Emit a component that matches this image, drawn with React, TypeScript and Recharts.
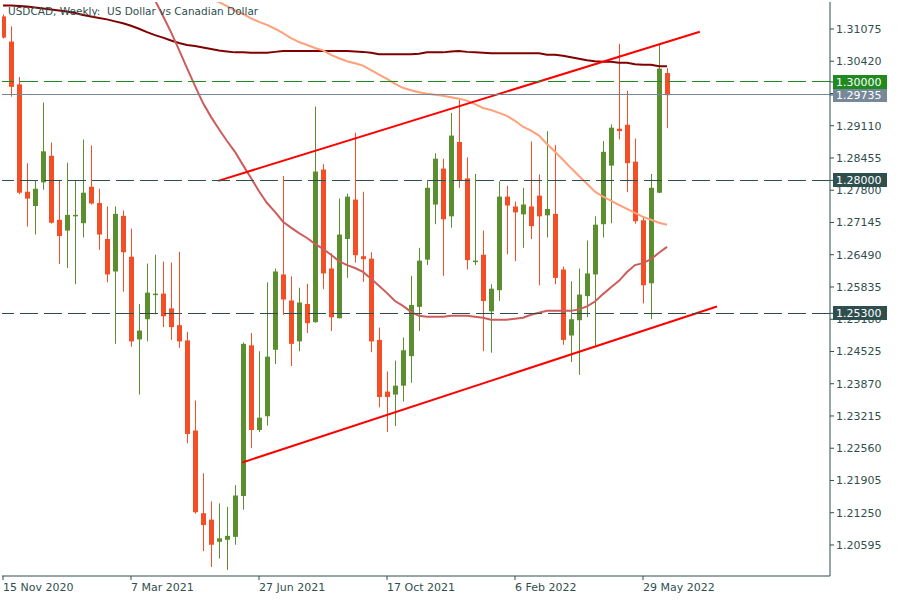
import { ComposedChart, Bar, Line, XAxis, YAxis, ReferenceLine } from 'recharts';

const FONT = '"DejaVu Sans", Verdana, sans-serif';
const INK = '#2f4f4f';
const UP = '#5a8e2f';
const DOWN = '#f44e27';

// weekly USDCAD candles, 15 Nov 2020 .. 19 Jun 2022
const openP = [
  1.3133, 1.3082, 1.2995, 1.2777, 1.2748, 1.2796, 1.2850, 1.2720, 1.2698, 1.2727,
  1.2713, 1.2787, 1.2754, 1.2681, 1.2615, 1.2728, 1.2645, 1.2477, 1.2518, 1.2568,
  1.2570, 1.2540, 1.2506, 1.2475, 1.2292, 1.2124, 1.2111, 1.2066, 1.2070, 1.2076,
  1.2159, 1.2465, 1.2293, 1.2321, 1.2456, 1.2609, 1.2556, 1.2473, 1.2549, 1.2512,
  1.2822, 1.2621, 1.2520, 1.2681, 1.2761, 1.2646, 1.2641, 1.2476, 1.2371, 1.2365,
  1.2383, 1.2443, 1.2543, 1.2639, 1.2751, 1.2824, 1.2727, 1.2878, 1.2804, 1.2634,
  1.2649, 1.2534, 1.2577, 1.2767, 1.2747, 1.2731, 1.2747, 1.2769, 1.2729, 1.2732,
  1.2619, 1.2485, 1.2516, 1.2565, 1.2609, 1.2711, 1.2830, 1.2905, 1.2913, 1.2838,
  1.2719, 1.2591, 1.2775, 1.3018,
];
const highP = [
  1.3137, 1.3113, 1.3010, 1.2835, 1.2800, 1.2958, 1.2877, 1.2801, 1.2836, 1.2801,
  1.2883, 1.2871, 1.2783, 1.2747, 1.2747, 1.2739, 1.2702, 1.2549, 1.2631, 1.2649,
  1.2635, 1.2633, 1.2655, 1.2492, 1.2353, 1.2205, 1.2148, 1.2144, 1.2137, 1.2181,
  1.2471, 1.2490, 1.2453, 1.2593, 1.2621, 1.2809, 1.2605, 1.2582, 1.2590, 1.2950,
  1.2833, 1.2652, 1.2763, 1.2773, 1.2897, 1.2777, 1.2654, 1.2501, 1.2412, 1.2434,
  1.2481, 1.2606, 1.2663, 1.2801, 1.2855, 1.2844, 1.2937, 1.2964, 1.2847, 1.2813,
  1.2698, 1.2589, 1.2798, 1.2789, 1.2757, 1.2785, 1.2879, 1.2812, 1.2900, 1.2872,
  1.2625, 1.2595, 1.2621, 1.2678, 1.2727, 1.2880, 1.2914, 1.3077, 1.2982, 1.2885,
  1.2727, 1.2813, 1.3077, 1.3028,
];
const lowP = [
  1.3088, 1.2970, 1.2772, 1.2706, 1.2690, 1.2781, 1.2712, 1.2630, 1.2622, 1.2589,
  1.2684, 1.2751, 1.2659, 1.2593, 1.2468, 1.2574, 1.2462, 1.2365, 1.2473, 1.2528,
  1.2502, 1.2476, 1.2460, 1.2266, 1.2123, 1.2047, 1.2015, 1.2032, 1.2009, 1.2060,
  1.2131, 1.2256, 1.2289, 1.2302, 1.2427, 1.2527, 1.2423, 1.2453, 1.2490, 1.2511,
  1.2579, 1.2494, 1.2520, 1.2602, 1.2633, 1.2594, 1.2451, 1.2339, 1.2289, 1.2301,
  1.2351, 1.2389, 1.2494, 1.2628, 1.2711, 1.2606, 1.2704, 1.2785, 1.2619, 1.2628,
  1.2453, 1.2450, 1.2555, 1.2650, 1.2636, 1.2663, 1.2681, 1.2587, 1.2684, 1.2589,
  1.2466, 1.2431, 1.2405, 1.2522, 1.2462, 1.2684, 1.2713, 1.2883, 1.2776, 1.2712,
  1.2550, 1.2518, 1.2774, 1.2906,
];
const closeP = [
  1.3090, 1.2990, 1.2775, 1.2763, 1.2783, 1.2859, 1.2714, 1.2687, 1.2730, 1.2730,
  1.2775, 1.2753, 1.2690, 1.2609, 1.2732, 1.2654, 1.2473, 1.2495, 1.2572, 1.2570,
  1.2524, 1.2502, 1.2473, 1.2285, 1.2126, 1.2100, 1.2060, 1.2073, 1.2078, 1.2160,
  1.2468, 1.2293, 1.2318, 1.2442, 1.2615, 1.2558, 1.2468, 1.2552, 1.2510, 1.2818,
  1.2611, 1.2522, 1.2690, 1.2767, 1.2648, 1.2640, 1.2473, 1.2360, 1.2360, 1.2383,
  1.2455, 1.2547, 1.2637, 1.2785, 1.2844, 1.2721, 1.2891, 1.2800, 1.2638, 1.2637,
  1.2555, 1.2580, 1.2767, 1.2749, 1.2735, 1.2751, 1.2707, 1.2727, 1.2742, 1.2602,
  1.2476, 1.2518, 1.2568, 1.2611, 1.2710, 1.2858, 1.2907, 1.2900, 1.2835, 1.2717,
  1.2587, 1.2785, 1.3027, 1.2973,
];

const N = null;
const ma50 = [
  N, N, N, N, N, N, N, N, N, N,
  N, N, N, N, N, N, N, 1.3231, 1.3199, 1.3166,
  1.3134, 1.3101, 1.3065, 1.3028, 1.2992, 1.2957, 1.2929, 1.2904, 1.2880, 1.2858,
  1.2831, 1.2805, 1.2778, 1.2754, 1.2736, 1.2716, 1.2704, 1.2693, 1.2683, 1.2671,
  1.2661, 1.2649, 1.2636, 1.2628, 1.2622, 1.2614, 1.2600, 1.2586, 1.2571, 1.2555,
  1.2545, 1.2533, 1.2525, 1.2523, 1.2523, 1.2523, 1.2525, 1.2525, 1.2525, 1.2523,
  1.2521, 1.2517, 1.2517, 1.2517, 1.2519, 1.2521, 1.2527, 1.2531, 1.2535, 1.2535,
  1.2535, 1.2535, 1.2538, 1.2544, 1.2554, 1.2569, 1.2583, 1.2596, 1.2614, 1.2628,
  1.2632, 1.2640, 1.2653, 1.2665,
];
const ma100 = [
  N, N, N, N, N, N, N, N, N, N,
  N, N, N, N, N, N, N, N, N, N,
  N, N, N, N, 1.3188, 1.3177, 1.3168, 1.3162, 1.3154, 1.3145,
  1.3138, 1.3129, 1.3122, 1.3116, 1.3108, 1.3099, 1.3089, 1.3081, 1.3075, 1.3069,
  1.3064, 1.3055, 1.3048, 1.3042, 1.3038, 1.3033, 1.3024, 1.3015, 1.3006, 1.2996,
  1.2988, 1.2983, 1.2979, 1.2976, 1.2974, 1.2972, 1.2969, 1.2966, 1.2962, 1.2955,
  1.2947, 1.2943, 1.2937, 1.2931, 1.2921, 1.2909, 1.2901, 1.2891, 1.2874, 1.2858,
  1.2842, 1.2825, 1.2809, 1.2793, 1.2777, 1.2767, 1.2759, 1.2750, 1.2742, 1.2734,
  1.2726, 1.2720, 1.2714, 1.2710,
];
const ma200 = [
  1.3155, 1.3155, 1.3154, 1.3153, 1.3151, 1.3149, 1.3147, 1.3145, 1.3143, 1.3140,
  1.3136, 1.3133, 1.3130, 1.3127, 1.3123, 1.3119, 1.3114, 1.3108, 1.3101, 1.3095,
  1.3090, 1.3084, 1.3079, 1.3075, 1.3073, 1.3070, 1.3067, 1.3064, 1.3062, 1.3060,
  1.3060, 1.3059, 1.3059, 1.3059, 1.3061, 1.3063, 1.3063, 1.3063, 1.3063, 1.3063,
  1.3063, 1.3063, 1.3063, 1.3063, 1.3062, 1.3061, 1.3059, 1.3056, 1.3056, 1.3056,
  1.3056, 1.3056, 1.3057, 1.3060, 1.3060, 1.3060, 1.3062, 1.3063, 1.3061, 1.3060,
  1.3059, 1.3058, 1.3058, 1.3058, 1.3058, 1.3058, 1.3058, 1.3058, 1.3055, 1.3055,
  1.3053, 1.3050, 1.3047, 1.3044, 1.3042, 1.3041, 1.3041, 1.3039, 1.3039, 1.3036,
  1.3035, 1.3035, 1.3032, 1.3032,
];

const dateTickIdx = [0, 16, 32, 48, 64, 80];
const dateTickLabels = ['15 Nov 2020', '7 Mar 2021', '27 Jun 2021', '17 Oct 2021', '6 Feb 2022', '29 May 2022'];
const priceTicks = [
  1.31075, 1.3042, 1.29765, 1.2911, 1.28455, 1.278, 1.27145, 1.2649,
  1.25835, 1.2518, 1.24525, 1.2387, 1.23215, 1.2256, 1.21905, 1.2125, 1.20595,
];

const upperTrend = [{ x: 26.9, y: 1.2799 }, { x: 87.1, y: 1.3102 }];
const lowerTrend = [{ x: 29.9, y: 1.2227 }, { x: 89.25, y: 1.2544 }];

const levels = [1.3, 1.28, 1.253];
const levelColors = ['#1f8a1f', INK, INK];
const lastPrice = 1.29735;
const lastColor = '#778899';

// price tags are drawn as extra axis ticks, after the normal ones, so they sit on top
const tagPrices = [lastPrice, ...levels];
const tagColors = [lastColor, ...levelColors];

const X_DOMAIN = [-0.125, 103.375];
const Y_DOMAIN = [1.19965, 1.31623];

const candles = openP.map((o, i) => ({
  i,
  o,
  h: highP[i],
  l: lowP[i],
  c: closeP[i],
  range: [lowP[i], highP[i]],
  ma50: ma50[i],
  ma100: ma100[i],
  ma200: ma200[i],
}));

const Candle = (props: any) => {
  const { x, y, width, height, payload } = props;
  if (x == null || y == null) return null;
  const { o, h, l, c } = payload;
  const top = Math.min(y, y + height);
  const hh = Math.abs(height);
  const span = h - l || 1e-9;
  const py = (v: number) => top + ((h - v) / span) * hh;
  const color = c >= o ? UP : DOWN;
  const cx = Math.round(x + width / 2);
  const bTop = py(Math.max(o, c));
  const bBot = py(Math.min(o, c));
  return (
    <g>
      <line x1={cx + 0.5} x2={cx + 0.5} y1={top} y2={top + hh} stroke={color} strokeWidth={1} />
      <rect x={cx - 2} y={bTop} width={5} height={Math.max(bBot - bTop, 1.5)} fill={color} />
    </g>
  );
};

const DateTick = (props: any) => {
  const { x, y, payload } = props;
  const k = dateTickIdx.indexOf(payload.value);
  return (
    <text x={x} y={y + 9} textAnchor="start" fill={INK} fontSize={11} fontFamily={FONT}>
      {k >= 0 ? dateTickLabels[k] : ''}
    </text>
  );
};

const PriceTick = (props: any) => {
  const { x, y, payload, index } = props;
  const t = index - priceTicks.length;
  if (t >= 0) {
    return (
      <g>
        <rect x={x - 3} y={Math.round(y) - 7} width={54} height={14} fill={tagColors[t]} />
        <text x={x} y={y + 4} textAnchor="start" fill="#ffffff" fontSize={11} fontFamily={FONT}>
          {tagPrices[t].toFixed(5)}
        </text>
      </g>
    );
  }
  return (
    <text x={x} y={y + 4} textAnchor="start" fill={INK} fontSize={11} fontFamily={FONT}>
      {Number(payload.value).toFixed(5)}
    </text>
  );
};

export default function App() {
  return (
    <div style={{ position: 'absolute', left: 0, top: 0, width: 900, height: 600, background: '#fff' }}>
      <ComposedChart width={900} height={600} data={candles} margin={{ top: 2, right: 0, bottom: 0, left: 2 }}>
        <XAxis
          dataKey="i"
          type="number"
          domain={X_DOMAIN}
          allowDataOverflow
          ticks={dateTickIdx}
          interval={0}
          tick={<DateTick />}
          tickSize={4}
          height={24}
          stroke={INK}
        />
        <XAxis
          xAxisId="top"
          orientation="top"
          dataKey="i"
          type="number"
          domain={X_DOMAIN}
          allowDataOverflow
          height={0}
          tick={false}
          tickLine={false}
          stroke={INK}
        />
        <YAxis
          orientation="right"
          type="number"
          domain={Y_DOMAIN}
          allowDataOverflow
          ticks={[...priceTicks, ...tagPrices]}
          interval={0}
          tick={<PriceTick />}
          tickSize={4}
          tickMargin={2}
          width={70}
          stroke={INK}
        />
        <YAxis
          yAxisId="left"
          orientation="left"
          type="number"
          domain={Y_DOMAIN}
          allowDataOverflow
          width={0}
          tick={false}
          tickLine={false}
          stroke={INK}
        />
        <Bar dataKey="range" barSize={5} shape={(p: any) => <Candle {...p} />} isAnimationActive={false} />
        <Line type="linear" dataKey="ma200" stroke="#800000" strokeWidth={2} dot={false} activeDot={false} isAnimationActive={false} />
        <Line type="linear" dataKey="ma100" stroke="#ffa07a" strokeWidth={2} dot={false} activeDot={false} isAnimationActive={false} />
        <Line type="linear" dataKey="ma50" stroke="#cd5c5c" strokeWidth={2} dot={false} activeDot={false} isAnimationActive={false} />
        <ReferenceLine segment={upperTrend} stroke="#ff0000" strokeWidth={2} />
        <ReferenceLine segment={lowerTrend} stroke="#ff0000" strokeWidth={2} />
        <ReferenceLine y={lastPrice} stroke={lastColor} strokeWidth={1} shapeRendering="crispEdges" />
        {levels.map((v, k) => (
          <ReferenceLine
            key={v}
            y={v}
            stroke={levelColors[k]}
            strokeWidth={1}
            strokeDasharray="18 6"
            shapeRendering="crispEdges"
          />
        ))}
      </ComposedChart>
      <div
        style={{
          position: 'absolute',
          left: 8,
          top: 5,
          fontFamily: FONT,
          fontSize: 10.5,
          lineHeight: '13px',
          color: INK,
          whiteSpace: 'pre',
        }}
      >
        {'USDCAD, Weekly:  US Dollar vs Canadian Dollar'}
      </div>
    </div>
  );
}
